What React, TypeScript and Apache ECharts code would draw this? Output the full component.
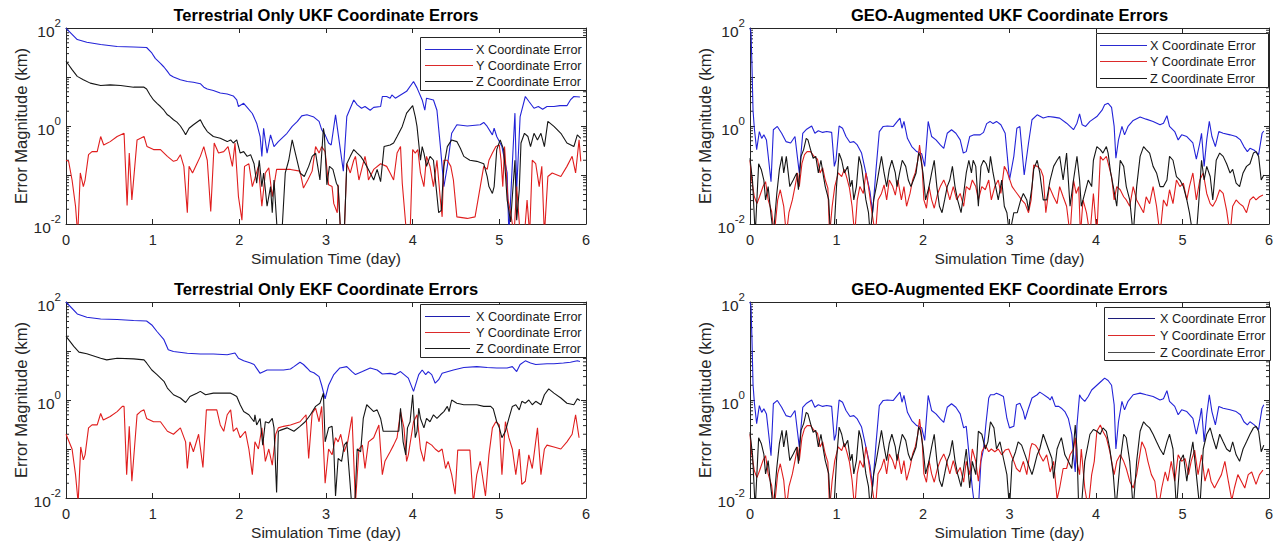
import { useEffect, useRef } from 'react';
import * as echarts from 'echarts';

// Coordinate error samples: [simulation time (day), error magnitude (km)]

// Terrestrial Only UKF
const tlX = [[0,100],[0.01,95],[0.13,58],[0.24,51],[0.4,46],[0.59,42],[0.78,41],[0.93,40],[0.99,31],[1.03,24],[1.09,19],[1.13,16],[1.17,13],[1.2,11],[1.24,10],[1.32,8.8],[1.4,8.1],[1.47,7.8],[1.55,7.3],[1.59,6.2],[1.63,5.7],[1.7,5.3],[1.78,4.7],[1.86,4.5],[1.93,4.1],[1.97,3.4],[1.99,2.5],[2.05,2.9],[2.09,2.4],[2.15,1.8],[2.2,1.14],[2.24,0.61],[2.26,0.24],[2.28,0.9],[2.32,0.28],[2.36,0.66],[2.4,0.38],[2.45,0.48],[2.55,0.71],[2.61,0.98],[2.67,1.24],[2.72,1.61],[2.78,1.69],[2.86,1.52],[2.92,1.24],[2.95,0.84],[2.99,0.66],[3.03,0.45],[3.06,0.41],[3.11,1.69],[3.2,0.12],[3.24,1.56],[3.32,3.4],[3.36,2.7],[3.41,2.3],[3.45,2.5],[3.51,2.1],[3.55,2.4],[3.63,2.5],[3.65,4.0],[3.7,4.0],[3.74,3.7],[3.76,4.3],[3.8,3.7],[3.86,4.3],[3.93,5.1],[4.01,8.1],[4.05,6.0],[4.11,3.4],[4.14,2.1],[4.16,3.7],[4.24,3.4],[4.28,2.1],[4.32,0.38],[4.36,0.058],[4.4,0.15],[4.45,0.71],[4.51,1.06],[4.63,1.0],[4.78,1.06],[4.82,1.18],[4.86,0.98],[4.92,0.66],[4.94,0.9],[4.97,0.61],[5.03,0.38],[5.09,0.11],[5.11,0.006],[5.16,0.38],[5.18,1.83],[5.2,0.05],[5.24,1.56],[5.3,4.0],[5.34,3.2],[5.4,2.3],[5.45,2.5],[5.5,2.2],[5.55,2.5],[5.63,2.5],[5.7,2.6],[5.78,2.6],[5.82,3.4],[5.86,4.0],[5.93,3.9]];
const tlY = [[0,0.2],[0.03,0.19],[0.07,0.079],[0.11,0.023],[0.135,0.006],[0.165,0.11],[0.2,0.058],[0.22,0.079],[0.26,0.26],[0.3,0.3],[0.36,0.3],[0.4,0.61],[0.435,0.41],[0.51,0.48],[0.59,0.61],[0.67,0.71],[0.705,0.024],[0.73,0.28],[0.76,0.031],[0.82,0.52],[0.86,0.56],[0.9,0.61],[0.935,0.38],[1.01,0.33],[1.09,0.33],[1.17,0.24],[1.24,0.19],[1.28,0.2],[1.32,0.26],[1.36,0.15],[1.4,0.017],[1.42,0.15],[1.46,0.11],[1.51,0.17],[1.55,0.24],[1.59,0.38],[1.63,0.2],[1.67,0.018],[1.71,0.45],[1.76,0.28],[1.82,0.3],[1.87,0.38],[1.92,0.15],[1.95,0.45],[1.99,0.036],[2.03,0.012],[2.06,0.15],[2.11,0.17],[2.15,0.058],[2.18,0.086],[2.22,0.15],[2.26,0.023],[2.3,0.11],[2.34,0.14],[2.38,0.036],[2.43,0.13],[2.59,0.13],[2.7,0.12],[2.74,0.054],[2.79,0.079],[2.84,0.12],[2.88,0.38],[2.92,0.28],[2.95,0.38],[2.99,0.3],[3.03,0.063],[3.07,0.058],[3.09,0.026],[3.13,0.017],[3.14,0.063],[3.17,0.006],[3.21,0.006],[3.24,0.17],[3.28,0.11],[3.32,0.2],[3.34,0.24],[3.38,0.079],[3.42,0.15],[3.45,0.24],[3.47,0.16],[3.49,0.079],[3.55,0.13],[3.63,0.17],[3.7,0.15],[3.74,0.11],[3.78,0.079],[3.82,0.28],[3.86,0.38],[3.88,0.068],[3.93,0.006],[3.97,0.006],[4.0,0.33],[4.03,0.28],[4.06,0.33],[4.09,0.11],[4.13,0.058],[4.16,0.24],[4.2,0.15],[4.24,0.058],[4.28,0.2],[4.32,0.031],[4.34,0.014],[4.36,0.2],[4.4,0.2],[4.44,0.15],[4.47,0.079],[4.51,0.014],[4.63,0.013],[4.72,0.014],[4.78,0.058],[4.82,0.15],[4.86,0.13],[4.88,0.2],[4.92,0.28],[4.96,0.38],[5.0,0.41],[5.02,0.2],[5.04,0.058],[5.06,0.38],[5.1,0.031],[5.13,0.017],[5.17,0.006],[5.2,0.058],[5.24,0.006],[5.29,0.006],[5.32,0.031],[5.35,0.006],[5.38,0.2],[5.42,0.17],[5.46,0.058],[5.49,0.15],[5.52,0.006],[5.56,0.093],[5.61,0.11],[5.71,0.093],[5.78,0.15],[5.84,0.24],[5.88,0.11],[5.92,0.52],[5.94,0.19]];
const tlZ = [[0,20.8],[0.03,17.8],[0.07,14.1],[0.13,10.3],[0.2,8.8],[0.28,7.5],[0.4,6.7],[0.51,6.9],[0.63,6.7],[0.78,6.2],[0.9,6.2],[0.93,5.7],[0.97,4.3],[1.01,3.4],[1.05,2.9],[1.09,2.5],[1.13,2.1],[1.17,1.69],[1.2,1.56],[1.24,1.34],[1.28,1.2],[1.32,1.0],[1.36,0.77],[1.38,0.66],[1.42,0.9],[1.47,1.06],[1.55,1.34],[1.59,0.98],[1.63,0.77],[1.7,0.61],[1.78,0.56],[1.86,0.48],[1.9,0.52],[1.93,0.45],[1.97,0.52],[2.01,0.28],[2.05,0.3],[2.09,0.24],[2.13,0.26],[2.17,0.17],[2.2,0.068],[2.23,0.2],[2.26,0.058],[2.28,0.11],[2.32,0.023],[2.36,0.058],[2.38,0.017],[2.4,0.079],[2.44,0.006],[2.49,0.006],[2.53,0.11],[2.57,0.2],[2.61,0.52],[2.7,0.11],[2.75,0.093],[2.8,0.15],[2.84,0.24],[2.88,0.28],[2.93,0.079],[2.97,0.9],[2.98,0.71],[3.01,0.063],[3.04,0.15],[3.08,0.13],[3.12,0.068],[3.14,0.058],[3.17,0.006],[3.21,0.006],[3.24,0.17],[3.28,0.24],[3.32,0.33],[3.36,0.28],[3.4,0.24],[3.43,0.2],[3.47,0.15],[3.51,0.11],[3.55,0.079],[3.59,0.13],[3.63,0.073],[3.67,0.38],[3.74,0.41],[3.78,0.45],[3.82,0.61],[3.88,0.98],[3.93,1.83],[4.0,2.6],[4.03,1.56],[4.05,0.98],[4.09,0.2],[4.11,0.38],[4.13,0.28],[4.16,0.15],[4.2,0.24],[4.24,0.2],[4.27,0.058],[4.3,0.017],[4.33,0.019],[4.36,0.15],[4.4,0.38],[4.45,0.52],[4.51,0.48],[4.55,0.35],[4.59,0.24],[4.66,0.2],[4.74,0.19],[4.82,0.17],[4.86,0.093],[4.88,0.058],[4.92,0.042],[4.94,0.058],[4.97,0.33],[5.01,0.52],[5.05,0.33],[5.07,0.11],[5.09,0.031],[5.13,0.011],[5.15,0.036],[5.18,0.2],[5.2,0.012],[5.23,0.05],[5.25,0.45],[5.29,0.71],[5.33,0.61],[5.36,0.38],[5.4,0.71],[5.44,0.52],[5.48,0.71],[5.52,0.38],[5.56,1.24],[5.63,0.98],[5.71,0.71],[5.78,0.45],[5.86,0.38],[5.9,0.66],[5.94,0.56]];

// Terrestrial Only EKF
const blX = [[0,100],[0.13,57],[0.24,49],[0.4,45],[0.59,44],[0.78,42],[0.93,41],[0.99,34],[1.05,25],[1.13,17],[1.18,10.6],[1.24,9.8],[1.4,9.0],[1.55,8.7],[1.7,8.7],[1.86,8.4],[1.95,9.1],[1.99,7.1],[2.05,6.3],[2.13,5.7],[2.17,5.3],[2.24,3.5],[2.32,4.1],[2.4,4.1],[2.51,4.1],[2.59,4.3],[2.63,4.8],[2.7,5.9],[2.74,5.3],[2.78,4.5],[2.82,3.8],[2.86,3.6],[2.92,3.0],[2.95,2.0],[2.99,1.06],[3.03,2.0],[3.09,3.3],[3.16,4.5],[3.24,4.8],[3.3,3.8],[3.34,3.3],[3.42,3.8],[3.51,4.5],[3.59,4.1],[3.65,3.4],[3.74,3.5],[3.8,3.3],[3.86,3.8],[3.95,2.8],[4.01,1.5],[4.07,3.3],[4.11,4.1],[4.15,3.3],[4.18,3.8],[4.22,3.3],[4.26,2.2],[4.3,2.6],[4.34,3.5],[4.47,4.1],[4.59,4.6],[4.74,4.8],[4.86,4.6],[4.97,4.5],[5.09,4.5],[5.15,4.8],[5.2,3.8],[5.24,5.3],[5.3,6.3],[5.36,5.7],[5.42,5.3],[5.55,5.5],[5.63,5.5],[5.74,5.7],[5.82,5.9],[5.9,6.3],[5.93,6.1]];
const blY = [[0,0.2],[0.07,0.1],[0.11,0.03],[0.14,0.008],[0.17,0.11],[0.2,0.06],[0.22,0.076],[0.26,0.27],[0.3,0.31],[0.36,0.31],[0.4,0.53],[0.43,0.39],[0.51,0.46],[0.59,0.58],[0.65,0.74],[0.67,0.74],[0.7,0.03],[0.73,0.29],[0.76,0.022],[0.82,0.5],[0.86,0.58],[0.9,0.63],[0.93,0.42],[1.01,0.36],[1.09,0.36],[1.17,0.23],[1.24,0.2],[1.32,0.27],[1.38,0.14],[1.4,0.04],[1.43,0.14],[1.47,0.088],[1.53,0.2],[1.58,0.042],[1.62,0.63],[1.74,0.63],[1.78,0.31],[1.82,0.23],[1.86,0.5],[1.9,0.63],[1.93,0.23],[1.97,0.27],[2.01,0.17],[2.07,0.23],[2.11,0.1],[2.15,0.03],[2.18,0.14],[2.22,0.1],[2.26,0.27],[2.3,0.056],[2.34,0.1],[2.38,0.047],[2.42,0.2],[2.45,0.27],[2.51,0.29],[2.59,0.31],[2.7,0.36],[2.77,0.5],[2.8,0.064],[2.84,0.53],[2.88,0.68],[2.92,0.36],[2.95,0.74],[2.99,0.02],[3.03,0.1],[3.07,0.076],[3.11,0.17],[3.14,0.14],[3.17,0.2],[3.21,0.088],[3.25,0.14],[3.3,0.46],[3.34,0.008],[3.38,0.1],[3.42,0.12],[3.45,0.04],[3.49,0.14],[3.55,0.17],[3.61,0.31],[3.65,0.03],[3.68,0.056],[3.74,0.088],[3.78,0.12],[3.82,0.17],[3.86,0.58],[3.9,0.27],[3.93,0.056],[3.95,0.076],[4.01,0.36],[4.05,0.5],[4.09,0.1],[4.13,0.056],[4.16,0.14],[4.22,0.12],[4.26,0.1],[4.3,0.088],[4.34,0.1],[4.38,0.04],[4.41,0.056],[4.45,0.03],[4.49,0.012],[4.52,0.095],[4.66,0.095],[4.7,0.008],[4.74,0.03],[4.78,0.056],[4.84,0.011],[4.88,0.076],[4.92,0.27],[4.96,0.36],[5.0,0.31],[5.03,0.03],[5.07,0.36],[5.11,0.17],[5.15,0.1],[5.19,0.03],[5.23,0.1],[5.26,0.019],[5.3,0.022],[5.34,0.076],[5.38,0.04],[5.44,0.27],[5.48,0.03],[5.52,0.1],[5.55,0.12],[5.63,0.11],[5.71,0.1],[5.78,0.14],[5.84,0.2],[5.88,0.5],[5.92,0.17]];
const blZ = [[0,19.9],[0.03,17],[0.09,12.4],[0.15,9.5],[0.24,8.8],[0.4,7.1],[0.47,6.6],[0.59,7.1],[0.78,6.9],[0.9,6.6],[0.93,5.7],[0.99,4.1],[1.05,3.3],[1.13,2.4],[1.17,1.75],[1.24,1.28],[1.32,1.1],[1.38,0.89],[1.43,1.18],[1.51,1.38],[1.55,1.5],[1.61,1.28],[1.7,1.38],[1.78,1.38],[1.9,1.38],[1.93,1.3],[1.97,1.18],[2.01,0.8],[2.05,0.58],[2.11,0.5],[2.17,0.36],[2.18,0.5],[2.2,0.31],[2.24,0.42],[2.27,0.12],[2.3,0.36],[2.34,0.34],[2.38,0.42],[2.4,0.27],[2.43,0.013],[2.45,0.23],[2.47,0.24],[2.55,0.27],[2.63,0.23],[2.7,0.29],[2.76,0.36],[2.82,0.5],[2.88,0.74],[2.93,0.86],[2.97,1.38],[2.99,0.14],[3.03,0.27],[3.07,0.29],[3.09,0.1],[3.11,0.011],[3.14,0.064],[3.18,0.056],[3.21,0.12],[3.24,0.14],[3.27,0.03],[3.3,0.006],[3.33,0.006],[3.36,0.1],[3.4,0.088],[3.43,0.42],[3.47,0.8],[3.51,0.68],[3.55,0.58],[3.59,0.63],[3.63,0.42],[3.66,0.23],[3.84,0.23],[3.86,0.68],[3.89,0.14],[3.92,0.076],[3.94,0.27],[3.97,0.36],[4.0,1.28],[4.03,0.17],[4.05,0.23],[4.07,0.68],[4.09,0.42],[4.13,0.27],[4.16,0.42],[4.2,0.36],[4.24,0.5],[4.28,0.42],[4.32,0.5],[4.36,0.58],[4.4,0.74],[4.42,0.58],[4.45,1.0],[4.51,0.86],[4.59,0.8],[4.66,0.8],[4.74,0.8],[4.82,0.74],[4.9,0.74],[4.93,0.66],[4.97,0.36],[5.0,0.27],[5.03,0.17],[5.07,0.23],[5.11,0.42],[5.15,0.74],[5.19,0.8],[5.23,0.63],[5.26,0.94],[5.3,0.86],[5.34,1.0],[5.38,0.8],[5.42,0.94],[5.48,0.8],[5.52,1.28],[5.57,1.69],[5.63,1.38],[5.71,1.1],[5.78,0.86],[5.86,0.8],[5.9,1.06],[5.93,0.98]];

// GEO-Augmented UKF
const trX = [[0,100],[0.012,79],[0.023,16.4],[0.035,2.1],[0.05,0.9],[0.077,0.33],[0.108,0.77],[0.135,0.56],[0.16,0.66],[0.19,0.52],[0.216,0.2],[0.243,0.073],[0.27,0.84],[0.316,0.98],[0.366,0.71],[0.416,0.48],[0.47,0.45],[0.52,0.61],[0.547,0.24],[0.57,0.11],[0.61,0.71],[0.655,0.86],[0.713,1.0],[0.75,0.71],[0.79,0.8],[0.84,0.74],[0.886,0.77],[0.944,0.74],[0.975,0.15],[0.994,0.2],[1.03,1.0],[1.07,0.9],[1.11,0.61],[1.156,0.46],[1.2,0.48],[1.24,0.41],[1.29,0.28],[1.34,0.11],[1.387,0.046],[1.418,0.017],[1.457,0.13],[1.495,0.77],[1.54,0.98],[1.588,1.0],[1.657,0.98],[1.696,1.2],[1.734,1.45],[1.757,0.9],[1.78,1.24],[1.82,0.56],[1.87,0.38],[1.927,0.3],[1.985,0.27],[2.02,0.15],[2.06,1.24],[2.1,0.61],[2.15,0.52],[2.2,0.41],[2.24,0.35],[2.28,0.71],[2.33,0.84],[2.38,0.71],[2.43,0.52],[2.466,0.28],[2.5,0.3],[2.54,0.61],[2.59,0.66],[2.66,0.66],[2.7,0.74],[2.736,1.12],[2.775,1.24],[2.81,1.12],[2.85,1.24],[2.9,1.06],[2.95,0.71],[3.0,0.079],[3.05,0.24],[3.085,0.9],[3.12,0.98],[3.17,0.1],[3.22,0.45],[3.26,1.34],[3.32,1.69],[3.39,1.45],[3.45,1.56],[3.51,1.52],[3.58,1.45],[3.66,1.14],[3.74,0.84],[3.78,1.14],[3.81,1.77],[3.84,1.06],[3.88,0.98],[3.93,1.24],[4.01,1.56],[4.07,2.1],[4.1,2.7],[4.14,2.9],[4.18,2.4],[4.21,0.98],[4.23,0.22],[4.26,0.52],[4.3,0.98],[4.33,0.66],[4.37,0.98],[4.43,1.3],[4.51,1.52],[4.58,1.38],[4.66,1.24],[4.74,1.06],[4.78,1.14],[4.82,1.62],[4.85,0.98],[4.91,0.77],[4.95,0.52],[4.99,0.66],[5.05,0.61],[5.12,0.45],[5.16,0.21],[5.2,0.45],[5.22,0.71],[5.25,0.15],[5.28,0.52],[5.31,1.24],[5.34,0.61],[5.38,0.38],[5.42,0.77],[5.47,0.71],[5.55,0.66],[5.62,0.61],[5.67,0.52],[5.71,0.38],[5.75,0.3],[5.78,0.35],[5.83,0.32],[5.88,0.26],[5.92,0.71],[5.94,0.79]];
const trY = [[0,0.2],[0.02,0.079],[0.05,0.036],[0.08,0.026],[0.11,0.036],[0.15,0.058],[0.18,0.073],[0.21,0.031],[0.25,0.018],[0.28,0.006],[0.32,0.031],[0.35,0.05],[0.39,0.023],[0.42,0.006],[0.45,0.017],[0.49,0.031],[0.52,0.058],[0.55,0.11],[0.57,0.058],[0.6,0.17],[0.63,0.26],[0.66,0.3],[0.7,0.3],[0.74,0.24],[0.78,0.21],[0.81,0.11],[0.84,0.14],[0.87,0.079],[0.9,0.054],[0.92,0.006],[0.95,0.023],[0.98,0.058],[1.02,0.11],[1.06,0.093],[1.09,0.13],[1.12,0.086],[1.15,0.054],[1.18,0.023],[1.21,0.006],[1.24,0.031],[1.27,0.058],[1.31,0.042],[1.34,0.11],[1.37,0.058],[1.41,0.017],[1.45,0.006],[1.48,0.031],[1.52,0.042],[1.55,0.063],[1.58,0.031],[1.61,0.079],[1.65,0.058],[1.68,0.039],[1.71,0.079],[1.75,0.031],[1.78,0.058],[1.81,0.023],[1.85,0.042],[1.88,0.079],[1.91,0.11],[1.94,0.2],[1.96,0.41],[1.99,0.15],[2.01,0.031],[2.04,0.021],[2.07,0.058],[2.1,0.031],[2.13,0.021],[2.17,0.042],[2.2,0.058],[2.24,0.079],[2.27,0.058],[2.31,0.031],[2.35,0.058],[2.39,0.031],[2.43,0.042],[2.47,0.023],[2.5,0.058],[2.54,0.05],[2.57,0.079],[2.61,0.058],[2.64,0.031],[2.68,0.058],[2.72,0.05],[2.76,0.079],[2.79,0.031],[2.83,0.058],[2.87,0.079],[2.9,0.042],[2.94,0.15],[2.97,0.12],[3.03,0.058],[3.07,0.046],[3.1,0.039],[3.14,0.031],[3.18,0.026],[3.22,0.017],[3.25,0.031],[3.28,0.16],[3.32,0.15],[3.36,0.13],[3.39,0.093],[3.42,0.017],[3.46,0.058],[3.51,0.036],[3.55,0.026],[3.58,0.058],[3.62,0.036],[3.66,0.023],[3.7,0.006],[3.74,0.079],[3.77,0.042],[3.8,0.058],[3.82,0.006],[3.85,0.031],[3.89,0.017],[3.93,0.006],[3.97,0.042],[4.01,0.006],[4.05,0.24],[4.08,0.2],[4.12,0.24],[4.15,0.15],[4.18,0.093],[4.21,0.031],[4.24,0.058],[4.28,0.05],[4.32,0.036],[4.35,0.031],[4.39,0.023],[4.43,0.058],[4.47,0.031],[4.51,0.023],[4.55,0.017],[4.58,0.036],[4.62,0.026],[4.66,0.058],[4.7,0.023],[4.74,0.006],[4.78,0.031],[4.82,0.023],[4.85,0.05],[4.89,0.026],[4.93,0.079],[4.97,0.058],[5.01,0.068],[5.05,0.031],[5.08,0.058],[5.12,0.11],[5.16,0.031],[5.2,0.079],[5.24,0.11],[5.28,0.042],[5.32,0.026],[5.35,0.023],[5.39,0.031],[5.43,0.05],[5.47,0.042],[5.51,0.019],[5.55,0.006],[5.58,0.023],[5.62,0.031],[5.66,0.026],[5.7,0.023],[5.74,0.017],[5.78,0.031],[5.82,0.036],[5.85,0.031],[5.89,0.036],[5.93,0.039]];
const trZ = [[0,0.22],[0.03,0.073],[0.06,0.006],[0.1,0.17],[0.13,0.13],[0.16,0.079],[0.18,0.031],[0.21,0.058],[0.24,0.017],[0.27,0.006],[0.31,0.042],[0.34,0.13],[0.37,0.24],[0.39,0.11],[0.42,0.24],[0.46,0.058],[0.5,0.079],[0.54,0.11],[0.56,0.05],[0.59,0.24],[0.62,0.33],[0.65,0.56],[0.67,0.52],[0.7,0.33],[0.73,0.22],[0.76,0.24],[0.79,0.11],[0.82,0.2],[0.85,0.093],[0.87,0.058],[0.91,0.031],[0.93,0.006],[0.97,0.006],[1.0,0.058],[1.03,0.28],[1.06,0.2],[1.09,0.11],[1.13,0.15],[1.16,0.058],[1.18,0.079],[1.2,0.031],[1.23,0.058],[1.26,0.24],[1.29,0.15],[1.32,0.058],[1.34,0.031],[1.37,0.017],[1.39,0.006],[1.43,0.031],[1.46,0.058],[1.5,0.15],[1.52,0.24],[1.55,0.11],[1.58,0.058],[1.61,0.13],[1.64,0.2],[1.68,0.11],[1.7,0.058],[1.73,0.11],[1.76,0.2],[1.8,0.15],[1.83,0.079],[1.86,0.058],[1.89,0.079],[1.92,0.11],[1.95,0.28],[1.97,0.24],[2.0,0.11],[2.03,0.031],[2.07,0.058],[2.1,0.11],[2.13,0.2],[2.16,0.058],[2.19,0.023],[2.22,0.017],[2.25,0.031],[2.28,0.058],[2.31,0.079],[2.34,0.15],[2.37,0.058],[2.4,0.031],[2.44,0.017],[2.47,0.042],[2.5,0.11],[2.53,0.2],[2.56,0.11],[2.58,0.2],[2.61,0.15],[2.64,0.023],[2.67,0.15],[2.7,0.2],[2.73,0.17],[2.76,0.11],[2.78,0.24],[2.81,0.11],[2.84,0.058],[2.87,0.031],[2.91,0.079],[2.94,0.023],[2.97,0.017],[3.0,0.006],[3.05,0.017],[3.09,0.017],[3.13,0.031],[3.16,0.042],[3.2,0.031],[3.22,0.019],[3.26,0.058],[3.28,0.13],[3.32,0.2],[3.35,0.11],[3.39,0.031],[3.43,0.031],[3.47,0.079],[3.51,0.15],[3.55,0.2],[3.58,0.24],[3.62,0.079],[3.66,0.28],[3.7,0.023],[3.74,0.079],[3.78,0.24],[3.81,0.079],[3.83,0.023],[3.87,0.042],[3.91,0.079],[3.95,0.058],[3.97,0.2],[4.01,0.38],[4.05,0.33],[4.08,0.28],[4.12,0.38],[4.14,0.28],[4.17,0.11],[4.2,0.058],[4.24,0.023],[4.28,0.2],[4.32,0.15],[4.35,0.058],[4.39,0.031],[4.43,0.006],[4.47,0.058],[4.51,0.24],[4.55,0.38],[4.58,0.33],[4.62,0.28],[4.66,0.15],[4.7,0.11],[4.74,0.058],[4.78,0.058],[4.82,0.079],[4.85,0.24],[4.89,0.2],[4.93,0.093],[4.97,0.079],[5.01,0.058],[5.05,0.031],[5.08,0.017],[5.12,0.006],[5.16,0.006],[5.19,0.031],[5.22,0.2],[5.25,0.079],[5.28,0.15],[5.32,0.093],[5.35,0.031],[5.39,0.2],[5.43,0.28],[5.47,0.24],[5.51,0.17],[5.55,0.11],[5.58,0.13],[5.62,0.068],[5.66,0.058],[5.7,0.11],[5.74,0.15],[5.78,0.17],[5.82,0.28],[5.85,0.3],[5.88,0.24],[5.91,0.079],[5.94,0.1]];

// GEO-Augmented EKF
const brX = [[0,100],[0.012,79],[0.023,16.4],[0.035,2.1],[0.05,0.9],[0.077,0.33],[0.108,0.77],[0.135,0.56],[0.16,0.66],[0.19,0.52],[0.216,0.2],[0.243,0.073],[0.27,0.84],[0.316,0.98],[0.366,0.71],[0.416,0.48],[0.47,0.45],[0.52,0.61],[0.547,0.24],[0.57,0.11],[0.61,0.71],[0.655,0.86],[0.713,1.0],[0.75,0.71],[0.79,0.8],[0.84,0.74],[0.886,0.77],[0.944,0.74],[0.975,0.15],[0.994,0.2],[1.03,1.0],[1.07,0.9],[1.11,0.61],[1.156,0.46],[1.2,0.48],[1.24,0.41],[1.29,0.28],[1.34,0.11],[1.387,0.046],[1.418,0.017],[1.457,0.13],[1.495,0.77],[1.54,0.98],[1.588,1.0],[1.657,0.98],[1.696,1.2],[1.734,1.45],[1.757,0.9],[1.78,1.24],[1.82,0.56],[1.87,0.38],[1.927,0.3],[1.985,0.27],[2.02,0.15],[2.06,1.24],[2.1,0.61],[2.15,0.52],[2.2,0.41],[2.24,0.35],[2.28,0.71],[2.33,0.84],[2.38,0.71],[2.43,0.52],[2.47,0.27],[2.5,0.29],[2.54,0.056],[2.57,0.016],[2.6,0.006],[2.64,0.006],[2.67,0.056],[2.7,0.1],[2.73,0.36],[2.76,1.1],[2.78,1.28],[2.82,1.28],[2.85,1.38],[2.89,1.28],[2.93,1.18],[2.97,0.42],[3.0,0.27],[3.05,0.29],[3.08,0.8],[3.12,0.86],[3.16,0.58],[3.18,0.4],[3.22,0.68],[3.26,1.1],[3.32,1.28],[3.35,1.45],[3.39,1.3],[3.45,1.1],[3.47,1.0],[3.49,1.18],[3.53,0.74],[3.57,0.74],[3.6,0.68],[3.64,0.58],[3.68,0.42],[3.72,0.2],[3.74,0.076],[3.76,0.034],[3.78,0.31],[3.81,1.28],[3.83,1.1],[3.87,0.94],[3.91,1.18],[3.95,1.6],[4.01,2.0],[4.07,2.5],[4.1,2.8],[4.14,2.5],[4.18,2.0],[4.21,0.8],[4.23,0.1],[4.26,0.36],[4.3,0.94],[4.33,0.63],[4.37,0.94],[4.43,1.28],[4.51,1.38],[4.58,1.28],[4.66,1.18],[4.74,1.0],[4.78,1.06],[4.82,1.55],[4.85,0.94],[4.91,0.74],[4.95,0.5],[4.99,0.63],[5.05,0.58],[5.12,0.42],[5.16,0.2],[5.2,0.42],[5.22,0.68],[5.25,0.14],[5.28,0.5],[5.31,1.28],[5.34,0.58],[5.38,0.31],[5.42,0.74],[5.47,0.68],[5.55,0.63],[5.62,0.58],[5.67,0.5],[5.71,0.36],[5.75,0.31],[5.78,0.36],[5.83,0.31],[5.88,0.25],[5.92,0.68],[5.94,0.8]];
const brY = [[0,0.2],[0.02,0.079],[0.05,0.036],[0.08,0.026],[0.11,0.036],[0.15,0.058],[0.18,0.073],[0.21,0.031],[0.25,0.018],[0.28,0.006],[0.32,0.031],[0.35,0.05],[0.39,0.023],[0.42,0.006],[0.45,0.017],[0.49,0.031],[0.52,0.058],[0.55,0.11],[0.57,0.058],[0.6,0.17],[0.63,0.26],[0.66,0.3],[0.7,0.3],[0.74,0.24],[0.78,0.21],[0.81,0.11],[0.84,0.14],[0.87,0.079],[0.9,0.054],[0.92,0.006],[0.95,0.023],[0.98,0.058],[1.02,0.11],[1.06,0.093],[1.09,0.13],[1.12,0.086],[1.15,0.054],[1.18,0.023],[1.21,0.006],[1.24,0.031],[1.27,0.058],[1.31,0.042],[1.34,0.11],[1.37,0.058],[1.41,0.017],[1.45,0.006],[1.48,0.031],[1.52,0.042],[1.55,0.063],[1.58,0.031],[1.61,0.079],[1.65,0.058],[1.68,0.039],[1.71,0.079],[1.75,0.031],[1.78,0.058],[1.81,0.023],[1.85,0.042],[1.88,0.079],[1.91,0.11],[1.94,0.2],[1.96,0.41],[1.99,0.15],[2.01,0.031],[2.04,0.021],[2.07,0.058],[2.1,0.031],[2.13,0.021],[2.17,0.042],[2.2,0.058],[2.24,0.079],[2.27,0.058],[2.31,0.031],[2.35,0.058],[2.39,0.031],[2.43,0.042],[2.47,0.021],[2.5,0.056],[2.54,0.03],[2.57,0.1],[2.61,0.056],[2.64,0.022],[2.68,0.088],[2.72,0.12],[2.76,0.088],[2.79,0.1],[2.83,0.088],[2.87,0.1],[2.91,0.076],[2.95,0.095],[2.99,0.1],[3.05,0.056],[3.08,0.04],[3.12,0.034],[3.16,0.056],[3.2,0.03],[3.24,0.1],[3.26,0.13],[3.3,0.12],[3.33,0.1],[3.35,0.076],[3.39,0.056],[3.43,0.076],[3.47,0.034],[3.51,0.056],[3.55,0.0095],[3.58,0.016],[3.62,0.04],[3.66,0.04],[3.7,0.076],[3.74,0.1],[3.76,0.17],[3.78,0.056],[3.81,0.03],[3.83,0.1],[3.87,0.016],[3.91,0.006],[3.95,0.03],[3.98,0.056],[4.01,0.23],[4.05,0.31],[4.08,0.23],[4.12,0.17],[4.16,0.088],[4.21,0.03],[4.24,0.056],[4.28,0.076],[4.32,0.056],[4.35,0.04],[4.39,0.022],[4.43,0.016],[4.47,0.03],[4.53,0.14],[4.57,0.1],[4.6,0.056],[4.64,0.03],[4.68,0.022],[4.72,0.006],[4.76,0.016],[4.8,0.034],[4.83,0.022],[4.87,0.056],[4.91,0.022],[4.95,0.076],[4.99,0.056],[5.03,0.064],[5.07,0.03],[5.1,0.056],[5.14,0.095],[5.18,0.03],[5.22,0.076],[5.26,0.022],[5.3,0.04],[5.33,0.022],[5.37,0.016],[5.41,0.022],[5.45,0.03],[5.49,0.056],[5.53,0.022],[5.57,0.009],[5.6,0.016],[5.64,0.03],[5.68,0.022],[5.72,0.016],[5.76,0.03],[5.8,0.034],[5.85,0.019],[5.89,0.03],[5.93,0.037]];
const brZ = [[0,0.22],[0.03,0.073],[0.06,0.006],[0.1,0.17],[0.13,0.13],[0.16,0.079],[0.18,0.031],[0.21,0.058],[0.24,0.017],[0.27,0.006],[0.31,0.042],[0.34,0.13],[0.37,0.24],[0.39,0.11],[0.42,0.24],[0.46,0.058],[0.5,0.079],[0.54,0.11],[0.56,0.05],[0.59,0.24],[0.62,0.33],[0.65,0.56],[0.67,0.52],[0.7,0.33],[0.73,0.22],[0.76,0.24],[0.79,0.11],[0.82,0.2],[0.85,0.093],[0.87,0.058],[0.91,0.031],[0.93,0.006],[0.97,0.006],[1.0,0.058],[1.03,0.28],[1.06,0.2],[1.09,0.11],[1.13,0.15],[1.16,0.058],[1.18,0.079],[1.2,0.031],[1.23,0.058],[1.26,0.24],[1.29,0.15],[1.32,0.058],[1.34,0.031],[1.37,0.017],[1.39,0.006],[1.43,0.031],[1.46,0.058],[1.5,0.15],[1.52,0.24],[1.55,0.11],[1.58,0.058],[1.61,0.13],[1.64,0.2],[1.68,0.11],[1.7,0.058],[1.73,0.11],[1.76,0.2],[1.8,0.15],[1.83,0.079],[1.86,0.058],[1.89,0.079],[1.92,0.11],[1.95,0.28],[1.97,0.24],[2.0,0.11],[2.03,0.031],[2.07,0.058],[2.1,0.11],[2.13,0.2],[2.16,0.058],[2.19,0.023],[2.22,0.017],[2.25,0.031],[2.28,0.058],[2.31,0.079],[2.34,0.15],[2.37,0.058],[2.4,0.031],[2.44,0.017],[2.47,0.04],[2.5,0.1],[2.54,0.016],[2.57,0.056],[2.61,0.03],[2.64,0.23],[2.68,0.2],[2.72,0.1],[2.75,0.14],[2.78,0.36],[2.82,0.27],[2.85,0.1],[2.89,0.14],[2.93,0.064],[2.97,0.03],[3.0,0.006],[3.03,0.056],[3.07,0.088],[3.1,0.14],[3.14,0.12],[3.18,0.076],[3.22,0.047],[3.26,0.03],[3.28,0.04],[3.32,0.076],[3.35,0.1],[3.39,0.2],[3.45,0.1],[3.49,0.064],[3.51,0.025],[3.55,0.1],[3.58,0.14],[3.6,0.17],[3.64,0.076],[3.68,0.056],[3.72,0.04],[3.76,0.31],[3.78,0.1],[3.8,0.006],[3.83,0.006],[3.87,0.056],[3.93,0.2],[3.97,0.25],[4.01,0.23],[4.05,0.2],[4.08,0.27],[4.12,0.23],[4.16,0.1],[4.2,0.03],[4.23,0.006],[4.28,0.056],[4.32,0.2],[4.35,0.17],[4.39,0.056],[4.43,0.006],[4.47,0.056],[4.51,0.23],[4.55,0.36],[4.58,0.31],[4.62,0.27],[4.66,0.2],[4.7,0.14],[4.74,0.1],[4.78,0.076],[4.82,0.14],[4.85,0.2],[4.89,0.1],[4.93,0.006],[4.97,0.056],[5.01,0.076],[5.05,0.022],[5.08,0.056],[5.12,0.14],[5.16,0.03],[5.2,0.006],[5.24,0.1],[5.28,0.2],[5.32,0.27],[5.35,0.17],[5.39,0.1],[5.43,0.2],[5.47,0.14],[5.51,0.1],[5.55,0.088],[5.58,0.14],[5.62,0.076],[5.66,0.056],[5.7,0.1],[5.74,0.14],[5.78,0.2],[5.82,0.27],[5.85,0.29],[5.88,0.23],[5.91,0.088],[5.94,0.12]];

const SERIES_NAMES = ['X Coordinate Error', 'Y Coordinate Error', 'Z Coordinate Error'];
const TITLES = [
  'Terrestrial Only UKF Coordinate Errors',
  'GEO-Augmented UKF Coordinate Errors',
  'Terrestrial Only EKF Coordinate Errors',
  'GEO-Augmented EKF Coordinate Errors',
];
const X_AXIS_NAME = 'Simulation Time (day)';
const Y_AXIS_NAME = 'Error Magnitude (km)';
// log-axis minor tick positions (2..9 x each decade)
const MINOR_TICKS = [0.02,0.03,0.04,0.05,0.06,0.07,0.08,0.09,0.2,0.3,0.4,0.5,0.6,0.7,0.8,0.9,2,3,4,5,6,7,8,9,20,30,40,50,60,70,80,90];

const FONT = 'Arial, "Liberation Sans", Helvetica, sans-serif';
const AXIS_COLOR = '#262626';
const LINE_COLORS = ['#2323d8', '#e01e1e', '#161616'];

type LegendBox = {
  left: number; top: number; width: number; height: number;
  lineX0: number; lineX1: number; textX: number; rows: number[];
  colors: string[];
};
type Panel = {
  title: string;
  data: number[][][];
  grid: { left: number; top: number; width: number; height: number };
  legend: LegendBox;
};

const panels: Panel[] = [
  {
    title: TITLES[0],
    data: [tlX, tlY, tlZ],
    grid: { left: 66, top: 28, width: 520, height: 196 },
    legend: { left: 420, top: 37, width: 166, height: 53, lineX0: 425, lineX1: 473, textX: 476, rows: [49, 65, 81], colors: ['#2a2ad0', '#dc2a2a', '#1a1a1a'] },
  },
  {
    title: TITLES[1],
    data: [trX, trY, trZ],
    grid: { left: 750, top: 28, width: 519, height: 196 },
    legend: { left: 1096, top: 33, width: 172, height: 54, lineX0: 1100, lineX1: 1147, textX: 1150, rows: [45, 61, 78], colors: ['#2a2ad0', '#dc2a2a', '#1a1a1a'] },
  },
  {
    title: TITLES[2],
    data: [blX, blY, blZ],
    grid: { left: 66, top: 302, width: 520, height: 196 },
    legend: { left: 420, top: 304, width: 166, height: 53, lineX0: 425, lineX1: 470, textX: 476, rows: [316, 332, 348], colors: ['#1f1fb0', '#dc2a2a', '#1a1a1a'] },
  },
  {
    title: TITLES[3],
    data: [brX, brY, brZ],
    grid: { left: 750, top: 302, width: 519, height: 196 },
    legend: { left: 1104, top: 307, width: 166, height: 53, lineX0: 1108, lineX1: 1155, textX: 1160, rows: [318, 335, 352], colors: ['#1c1c7a', '#dc2a2a', '#4a4a4a'] },
  },
];

// legend boxes drawn as flat graphic elements in page coordinates
function legendElements(L: LegendBox, idx: number) {
  const els: any[] = [
    {
      type: 'rect', id: `lg${idx}-box`, z: 100,
      shape: { x: L.left + 0.5, y: L.top + 0.5, width: L.width, height: L.height },
      style: { fill: '#ffffff', stroke: AXIS_COLOR, lineWidth: 1 },
    },
  ];
  SERIES_NAMES.forEach((name, k) => {
    const y = L.rows[k];
    els.push({
      type: 'rect', id: `lg${idx}-mark${k}`, z: 101,
      shape: { x: L.lineX0, y: y - 0.1, width: L.lineX1 - L.lineX0, height: 1.2 },
      style: { fill: L.colors[k] },
    });
    els.push({
      type: 'text', id: `lg${idx}-text${k}`, z: 101, x: L.textX, y: y + 0.5,
      style: {
        text: name, fontSize: 12.7, fontFamily: FONT, fill: '#1a1a1a',
        align: 'left', verticalAlign: 'middle',
      },
    });
  });
  return els;
}

function buildOption() {
  const axisLine = { show: true, onZero: false, lineStyle: { color: AXIS_COLOR, width: 1 } };
  const axisTick = { show: true, inside: true, length: 5, lineStyle: { color: AXIS_COLOR, width: 1 } };

  const grid = panels.map((p) => ({ ...p.grid, containLabel: false }));

  const xAxis: any[] = [];
  const yAxis: any[] = [];
  panels.forEach((_, i) => {
    xAxis.push({
      type: 'value', gridIndex: i, position: 'bottom', min: 0, max: 6, interval: 1,
      axisLine, axisTick, splitLine: { show: false },
      axisLabel: { fontSize: 14.5, color: AXIS_COLOR, fontFamily: FONT, margin: 8 },
      name: X_AXIS_NAME, nameLocation: 'middle', nameGap: 26,
      nameTextStyle: { fontSize: 15.5, color: AXIS_COLOR, fontFamily: FONT },
    });
    yAxis.push({
      type: 'log', logBase: 10, gridIndex: i, position: 'left', min: 0.01, max: 100,
      axisLine, axisTick, splitLine: { show: false },
      axisLabel: {
        color: AXIS_COLOR, fontFamily: FONT, margin: 5,
        formatter: (v: number) => {
          const e = Math.round(Math.log10(v));
          return e % 2 === 0 ? `{b|10}{sup|${e}}` : '';
        },
        rich: {
          b: { fontSize: 15.5, color: AXIS_COLOR, fontFamily: FONT, lineHeight: 22, verticalAlign: 'bottom' },
          sup: { fontSize: 11.5, color: AXIS_COLOR, fontFamily: FONT, lineHeight: 11, verticalAlign: 'top' },
        },
      },
      name: Y_AXIS_NAME, nameLocation: 'middle', nameGap: 36,
      nameTextStyle: { fontSize: 16.5, color: AXIS_COLOR, fontFamily: FONT },
    });
  });
  // mirrored box axes (top / right) carrying inward ticks only
  panels.forEach((_, i) => {
    xAxis.push({
      type: 'value', gridIndex: i, position: 'top', min: 0, max: 6, interval: 1,
      axisLine, axisTick, axisLabel: { show: false }, splitLine: { show: false },
    });
    yAxis.push({
      type: 'log', logBase: 10, gridIndex: i, position: 'right', min: 0.01, max: 100,
      axisLine, axisTick, axisLabel: { show: false }, splitLine: { show: false },
    });
  });

  const series: any[] = [];
  panels.forEach((p, i) => {
    p.data.forEach((d, k) => {
      series.push({
        type: 'line', name: SERIES_NAMES[k], xAxisIndex: i, yAxisIndex: i,
        data: d, showSymbol: false, symbol: 'none', clip: true,
        lineStyle: { width: 1.1, color: LINE_COLORS[k] },
        itemStyle: { color: LINE_COLORS[k] },
        emphasis: { disabled: true },
        z: 2 + k,
      });
    });
    // minor ticks on both vertical edges, placed through the log scale
    series.push({
      type: 'custom', xAxisIndex: i, yAxisIndex: i, silent: true, clip: false, z: 1,
      data: MINOR_TICKS.map((v) => [0, v]),
      renderItem: (_params: any, api: any) => {
        const v = api.value(1);
        const a = api.coord([0, v]);
        const b = api.coord([6, v]);
        return {
          type: 'group',
          children: [
            { type: 'line', shape: { x1: a[0], y1: a[1], x2: a[0] + 3, y2: a[1] }, style: { stroke: AXIS_COLOR, lineWidth: 1 } },
            { type: 'line', shape: { x1: b[0] - 3, y1: b[1], x2: b[0], y2: b[1] }, style: { stroke: AXIS_COLOR, lineWidth: 1 } },
          ],
        };
      },
    });
  });

  const titles = panels.map((p, i) => ({
    type: 'text', id: `title${i}`, x: p.grid.left + p.grid.width / 2, y: p.grid.top - 13, z: 100,
    style: {
      text: p.title, fontSize: 16.5, fontWeight: 'bold', fontFamily: FONT,
      fill: '#000000', align: 'center', verticalAlign: 'middle',
    },
  }));
  const legends = panels.flatMap((p, i) => legendElements(p.legend, i));

  return {
    animation: false,
    backgroundColor: '#ffffff',
    grid, xAxis, yAxis, series,
    graphic: { elements: [...titles, ...legends] },
  };
}

export default function App() {
  const ref = useRef<HTMLDivElement>(null);
  useEffect(() => {
    if (!ref.current) return;
    const chart = echarts.init(ref.current, null, { renderer: 'svg' });
    chart.setOption(buildOption() as any);
    return () => chart.dispose();
  }, []);
  return (
    <div
      ref={ref}
      style={{ position: 'absolute', left: 0, top: 0, width: 1281, height: 546, background: '#ffffff' }}
    />
  );
}
